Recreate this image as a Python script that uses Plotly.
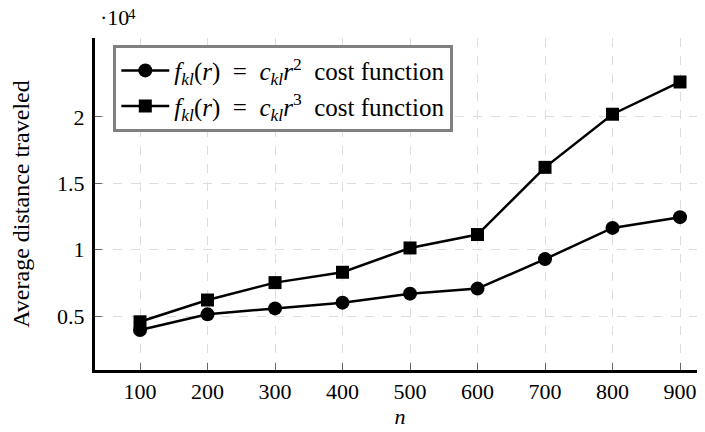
import plotly.graph_objects as go

n_values = [100, 200, 300, 400, 500, 600, 700, 800, 900]
cost_r2 = [3950, 5130, 5580, 6010, 6690, 7070, 9290, 11640, 12450]
cost_r3 = [4570, 6210, 7520, 8300, 10130, 11140, 16200, 20200, 22630]
y_tick_vals = [5000, 10000, 15000, 20000]
y_tick_text = ["0.5", "1", "1.5", "2"]

FONT = "Liberation Serif"
SP = "\u00a0"


def legend_name(power):
    return (f"<i>f</i><sub><i>kl</i></sub>(<i>r</i>){SP}{SP}={SP}{SP}"
            f"<i>c</i><sub><i>kl</i></sub><i>r</i><sup>{power}</sup>{SP}{SP}cost{SP}function")


fig = go.Figure()
fig.add_trace(go.Scatter(
    x=n_values, y=cost_r2, mode="lines+markers",
    name=legend_name(2),
    line=dict(color="black", width=2.5),
    marker=dict(symbol="circle", size=14, color="black"),
))
fig.add_trace(go.Scatter(
    x=n_values, y=cost_r3, mode="lines+markers",
    name=legend_name(3),
    line=dict(color="black", width=2.5),
    marker=dict(symbol="square", size=13, color="black"),
))

# page body has an 8px default margin, so the figure is offset by 8px
fig.update_layout(
    width=697, height=424,
    margin=dict(l=87, r=0, t=30, b=62, autoexpand=False),
    plot_bgcolor="white", paper_bgcolor="white",
    font=dict(family=FONT, size=22, color="black"),
    showlegend=True,
    legend=dict(
        x=0.03, y=0.98, xanchor="left", yanchor="top",
        bgcolor="white", bordercolor="#808080", borderwidth=3,
        font=dict(family=FONT, size=25),
        tracegroupgap=0, itemwidth=48,
    ),
    xaxis=dict(
        range=[33.3, 937],
        tickvals=n_values,
        ticks="inside", ticklen=7, tickcolor="#666", tickwidth=1,
        ticklabelstandoff=0,
        showgrid=True, gridcolor="#dddddd", griddash="dash", gridwidth=1,
        showline=True, linecolor="black", linewidth=3,
        zeroline=False, automargin=False,
        title=dict(text="<i>n</i>", font=dict(family=FONT, size=22), standoff=6),
        tickfont=dict(family=FONT, size=22),
    ),
    yaxis=dict(
        range=[940, 25940],
        tickvals=y_tick_vals, ticktext=y_tick_text,
        ticks="inside", ticklen=7, tickcolor="#666", tickwidth=1,
        ticklabelstandoff=3,
        showgrid=True, gridcolor="#dddddd", griddash="dash", gridwidth=1,
        showline=True, linecolor="black", linewidth=3,
        zeroline=False, automargin=False,
        title=dict(text="Average distance traveled", font=dict(family=FONT, size=24), standoff=22),
        tickfont=dict(family=FONT, size=22),
    ),
)

# axis multiplier "·10^4" drawn as two pieces so the exponent is not clipped
fig.add_annotation(
    text="·10", xref="paper", yref="paper",
    x=0.0, y=1.0, xanchor="left", yanchor="bottom", yshift=6, xshift=3,
    showarrow=False, font=dict(family=FONT, size=22),
)
fig.add_annotation(
    text="4", xref="paper", yref="paper",
    x=0.0, y=1.0, xanchor="left", yanchor="bottom", yshift=14, xshift=31,
    showarrow=False, font=dict(family=FONT, size=15),
)

fig.write_html("out.html")
